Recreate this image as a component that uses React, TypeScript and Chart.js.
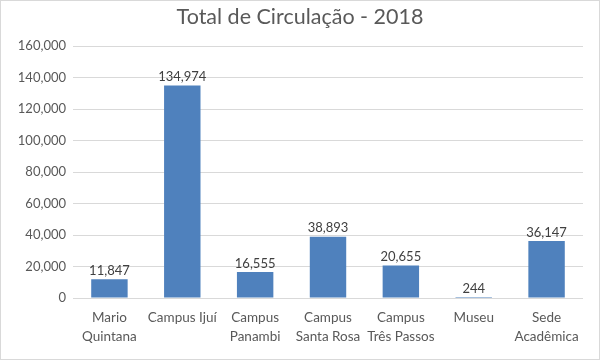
import React, { useEffect, useRef } from "react";
import { Chart, registerables } from "chart.js";

Chart.register(...registerables);

const categories: (string | string[])[] = [
  ["Mario", "Quintana"],
  "Campus Ijuí",
  ["Campus", "Panambi"],
  ["Campus", "Santa Rosa"],
  ["Campus", "Três Passos"],
  "Museu",
  ["Sede", "Acadêmica"],
];
const circulacao: number[] = [11847, 134974, 16555, 38893, 20655, 244, 36147];
const yTicks: number[] = [0, 20000, 40000, 60000, 80000, 100000, 120000, 140000, 160000];
const titleText = "Total de Circulação - 2018";

const FONT = "Lato, 'Open Sans', sans-serif";
const fmt = (v: number) => v.toLocaleString("en-US");

export default function App() {
  const ref = useRef<HTMLCanvasElement | null>(null);

  useEffect(() => {
    document.body.style.margin = "0";
    const canvas = ref.current;
    if (!canvas) return;

    const overlay = {
      id: "overlay",
      afterDraw(chart: any) {
        const ctx = chart.ctx;
        ctx.save();
        ctx.fillStyle = "#595959";
        ctx.font = `21.5px ${FONT}`;
        ctx.textAlign = "center";
        ctx.textBaseline = "middle";
        ctx.fillText(titleText, chart.width / 2, 16);
        const meta = chart.getDatasetMeta(0);
        ctx.fillStyle = "#404040";
        ctx.font = `13px ${FONT}`;
        meta.data.forEach((bar: any, i: number) => {
          ctx.fillText(fmt(circulacao[i]), bar.x, bar.y - 8.5);
        });
        ctx.restore();
      },
    };

    const chart = new Chart(canvas, {
      type: "bar",
      data: {
        labels: categories,
        datasets: [
          {
            data: circulacao,
            backgroundColor: "#4F81BD",
            barPercentage: 0.5,
            categoryPercentage: 1,
            minBarLength: 1,
          },
        ],
      },
      options: {
        animation: false,
        responsive: false,
        maintainAspectRatio: false,
        layout: { padding: { top: 45, right: 16, left: 0, bottom: 0 } },
        plugins: {
          legend: { display: false },
          tooltip: { enabled: false },
          title: { display: false },
        },
        scales: {
          x: {
            grid: { display: false },
            border: { display: false },
            ticks: {
              color: "#595959",
              font: { family: FONT, size: 13.5, lineHeight: 1.35 },
              maxRotation: 0,
              autoSkip: false,
              padding: 3,
            },
            afterFit(scale: any) {
              scale.height = 61;
            },
          },
          y: {
            min: 0,
            max: 160000,
            afterBuildTicks(scale: any) {
              scale.ticks = yTicks.map((v) => ({ value: v }));
            },
            grid: { color: "#d9d9d9", lineWidth: 1, drawTicks: false },
            border: { display: false },
            ticks: {
              color: "#595959",
              font: { family: FONT, size: 13 },
              padding: 7,
              callback: (v: any) => fmt(Number(v)),
            },
            afterFit(scale: any) {
              scale.width = 72;
            },
          },
        },
      },
      plugins: [overlay],
    });

    return () => chart.destroy();
  }, []);

  return (
    <div
      style={{
        width: 600,
        height: 360,
        border: "1px solid #d9d9d9",
        boxSizing: "border-box",
        background: "#fff",
      }}
    >
      <canvas ref={ref} width={598} height={358} style={{ display: "block" }} />
    </div>
  );
}
